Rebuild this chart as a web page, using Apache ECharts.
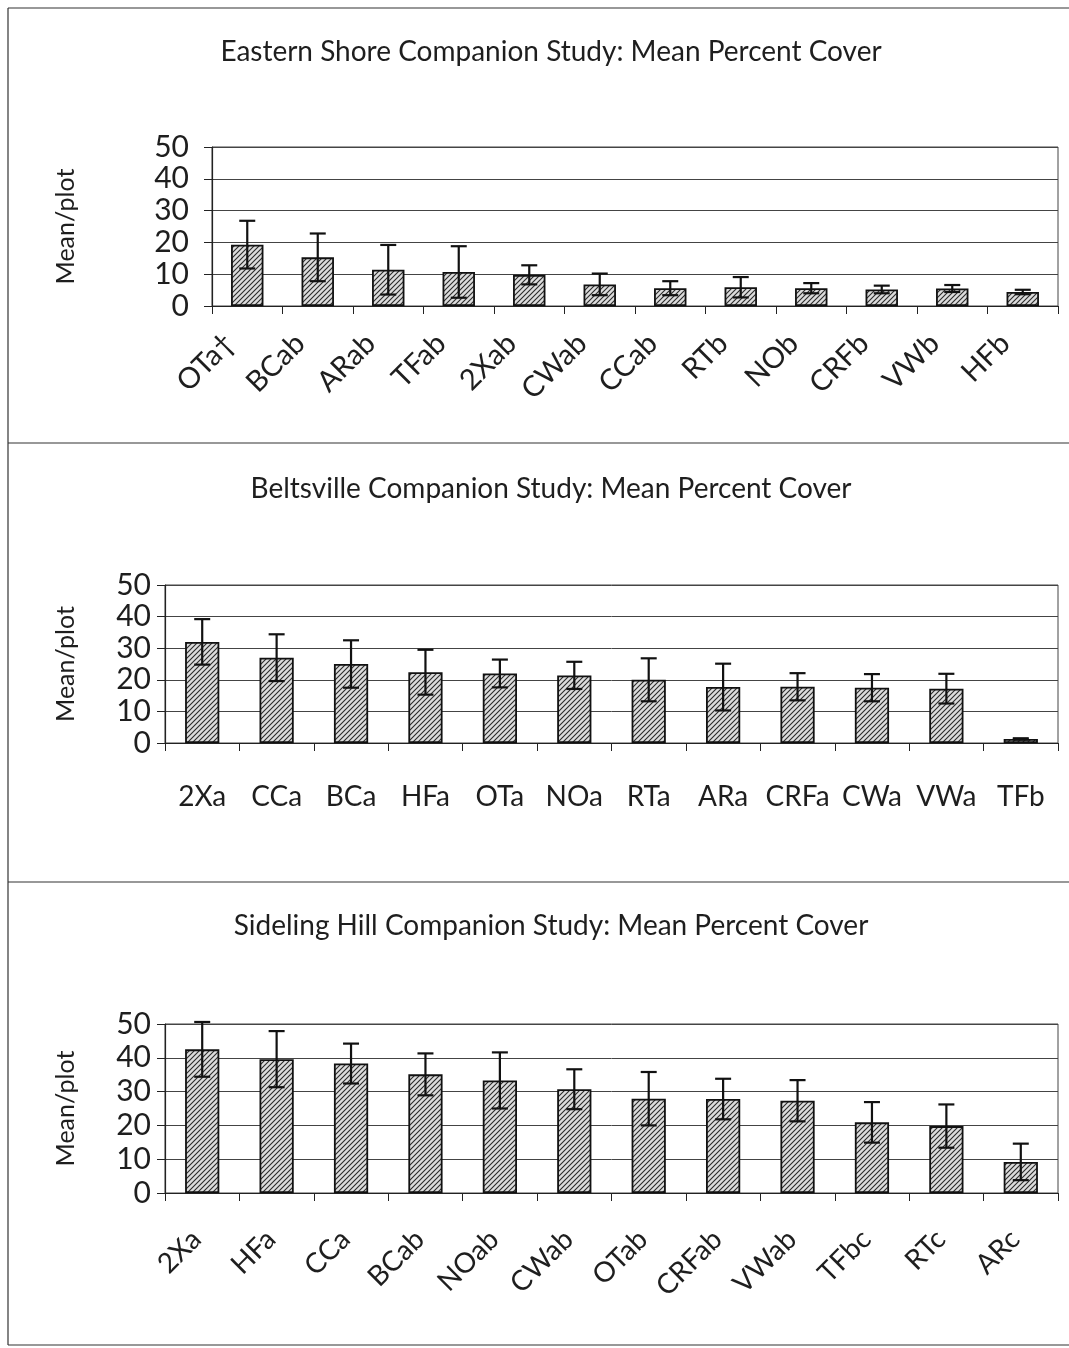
<!DOCTYPE html>
<html>
<head>
<meta charset="utf-8">
<style>
  html, body { margin: 0; padding: 0; background: #fff; }
  #chart { width: 1069px; height: 1348px; }
</style>
<script src="https://cdn.jsdelivr.net/npm/echarts@6/dist/echarts.min.js"></script>
</head>
<body>
<div id="chart"></div>
<script>
// Eastern Shore companion study
const esCats = ['OTa\u2020', 'BCab', 'ARab', 'TFab', '2Xab', 'CWab', 'CCab', 'RTb', 'NOb', 'CRFb', 'VWb', 'HFb'];
const esMean = [19.3, 15.3, 11.4, 10.7, 9.8, 6.8, 5.6, 5.9, 5.6, 5.2, 5.5, 4.4];
const esErr  = [7.5, 7.5, 7.8, 8.1, 3.0, 3.4, 2.2, 3.2, 1.6, 1.2, 1.1, 0.7];

// Beltsville companion study
const btCats = ['2Xa', 'CCa', 'BCa', 'HFa', 'OTa', 'NOa', 'RTa', 'ARa', 'CRFa', 'CWa', 'VWa', 'TFb'];
const btMean = [32.0, 27.0, 25.0, 22.4, 22.0, 21.4, 20.0, 17.7, 17.8, 17.5, 17.2, 1.3];
const btErr  = [7.2, 7.4, 7.5, 7.1, 4.4, 4.3, 6.8, 7.4, 4.3, 4.3, 4.7, 0.2];

// Sideling Hill companion study
const shCats = ['2Xa', 'HFa', 'CCa', 'BCab', 'NOab', 'CWab', 'OTab', 'CRFab', 'VWab', 'TFbc', 'RTc', 'ARc'];
const shMean = [42.5, 39.6, 38.3, 35.1, 33.3, 30.7, 27.9, 27.8, 27.3, 20.9, 19.8, 9.2];
const shErr  = [8.1, 8.3, 5.9, 6.2, 8.3, 5.9, 7.9, 6.0, 6.1, 6.0, 6.4, 5.4];

const titles = [
  'Eastern Shore Companion Study: Mean Percent Cover',
  'Beltsville Companion Study: Mean Percent Cover',
  'Sideling Hill Companion Study: Mean Percent Cover'
];
const yTicks = [0, 10, 20, 30, 40, 50];

const FONT = 'Lato, "Open Sans", sans-serif';
const INK = '#1e1e1e';

// diagonal hatch fill for the bars
function hatch() {
  const c = document.createElement('canvas');
  c.width = 5; c.height = 5;
  const g = c.getContext('2d');
  g.fillStyle = '#dcdcdc';
  g.fillRect(0, 0, 5, 5);
  g.strokeStyle = '#2a2a2a';
  g.lineWidth = 1.1;
  g.beginPath();
  g.moveTo(-1, 6); g.lineTo(6, -1);
  g.moveTo(-1, 1); g.lineTo(1, -1);
  g.moveTo(4, 6); g.lineTo(6, 4);
  g.stroke();
  return c;
}
const pattern = { image: hatch(), repeat: 'repeat' };

const panels = [
  { cats: esCats, mean: esMean, err: esErr, left: 212, top: 147, height: 159, titleY: 52,
    rotate: 45, margin: 15, pad: 25, fs: 29, nameGap: 134, yMargin: 23 },
  { cats: btCats, mean: btMean, err: btErr, left: 165, top: 585, height: 158, titleY: 489,
    rotate: 0, margin: 40, pad: 0, fs: 28, nameGap: 87, yMargin: 14 },
  { cats: shCats, mean: shMean, err: shErr, left: 165, top: 1024, height: 169, titleY: 926,
    rotate: 45, margin: 36, pad: 8, fs: 28, nameGap: 87, yMargin: 14 }
];

const option = {
  backgroundColor: '#fff',
  animation: false,
  grid: [], xAxis: [], yAxis: [], series: [],
  graphic: []
};

panels.forEach((p, i) => {
  option.graphic.push({
    type: 'text', x: 551, y: p.titleY,
    style: {
      text: titles[i], fontFamily: FONT, fontSize: 28, fill: INK,
      textAlign: 'center', textVerticalAlign: 'middle'
    }
  });
  option.grid.push({
    left: p.left, right: 11, top: p.top, height: p.height,
    show: true, borderColor: '#444', borderWidth: 1, backgroundColor: 'transparent'
  });
  option.xAxis.push({
    type: 'category', gridIndex: i, data: p.cats,
    axisLine: { lineStyle: { color: '#222', width: 1.2 } },
    axisTick: { show: true, length: 8, lineStyle: { color: '#222' } },
    axisLabel: {
      interval: 0, rotate: p.rotate, margin: p.margin, hideOverlap: false,
      formatter: v => '{t|' + v + '}',
      rich: { t: { fontFamily: FONT, fontSize: p.fs, color: INK, padding: [0, p.pad, 0, 0] } }
    }
  });
  option.yAxis.push({
    type: 'value', gridIndex: i, min: yTicks[0], max: yTicks[yTicks.length - 1], interval: 10,
    name: 'Mean/plot', nameLocation: 'middle', nameGap: p.nameGap, nameRotate: 90,
    nameTextStyle: { fontFamily: FONT, fontSize: 25, color: INK },
    axisLine: { show: true, lineStyle: { color: '#222', width: 1.2 } },
    axisTick: { show: true, length: 8, lineStyle: { color: '#222' } },
    axisLabel: { margin: p.yMargin, fontFamily: FONT, fontSize: 30, color: INK },
    splitLine: { show: true, lineStyle: { color: '#444', width: 1 } }
  });
  option.series.push({
    type: 'bar', xAxisIndex: i, yAxisIndex: i, data: p.mean, barWidth: '46%',
    itemStyle: { color: pattern, borderColor: '#111', borderWidth: 1.8 },
    z: 2
  });
  option.series.push({
    type: 'custom', xAxisIndex: i, yAxisIndex: i, z: 3,
    data: p.mean.map((m, k) => [k, m - p.err[k], m + p.err[k]]),
    renderItem: function (params, api) {
      const x = api.value(0);
      const lo = api.coord([x, api.value(1)]);
      const hi = api.coord([x, api.value(2)]);
      const cap = 8;
      const st = { stroke: '#111', lineWidth: 2.2 };
      return {
        type: 'group',
        children: [
          { type: 'line', shape: { x1: hi[0], y1: hi[1], x2: lo[0], y2: lo[1] }, style: st },
          { type: 'line', shape: { x1: hi[0] - cap, y1: hi[1], x2: hi[0] + cap, y2: hi[1] }, style: st },
          { type: 'line', shape: { x1: lo[0] - cap, y1: lo[1], x2: lo[0] + cap, y2: lo[1] }, style: st }
        ]
      };
    }
  });
});

// page frame and panel separators
const frameStyle = { stroke: '#333', lineWidth: 1.2 };
option.graphic.push({ type: 'line', shape: { x1: 8, y1: 8, x2: 8, y2: 1345 }, style: frameStyle });
[8, 443, 882, 1345].forEach(y => {
  option.graphic.push({ type: 'line', shape: { x1: 8, y1: y, x2: 1069, y2: y }, style: frameStyle });
});

const chart = echarts.init(document.getElementById('chart'), null, { renderer: 'canvas' });
chart.setOption(option);
</script>
</body>
</html>
